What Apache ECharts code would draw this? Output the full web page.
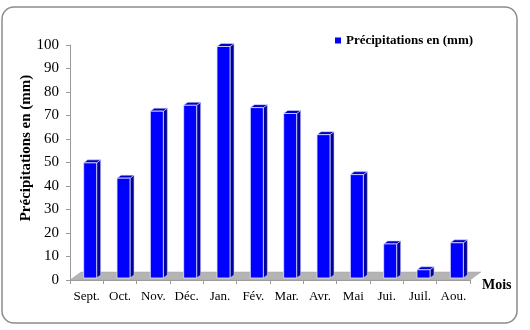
<!DOCTYPE html>
<html lang="fr">
<head>
<meta charset="UTF-8">
<title>Précipitations</title>
<script src="https://cdn.jsdelivr.net/npm/echarts@6/dist/echarts.min.js"></script>
<style>
  html, body { margin: 0; padding: 0; background: #fff; }
  #chart { width: 530px; height: 330px; }
</style>
</head>
<body>
<div id="chart"></div>
<script>
  // données
  var mois = ["Sept.", "Oct.", "Nov.", "Déc.", "Jan.", "Fév.", "Mar.", "Avr.", "Mai", "Jui.", "Juil.", "Aou."];
  var precipitations = [49, 42.5, 71, 73.5, 98.5, 72.5, 70, 61, 44, 14.5, 3.5, 15];
  var yTicks = { min: 0, max: 100, interval: 10 };

  var font = "'Liberation Serif', 'Times New Roman', serif";

  // barre en pseudo 3D : face avant, dessus, côté
  function renderBar(params, api) {
    var i = api.value(0);
    var top = api.coord([i, api.value(1)]);
    var base = api.coord([i, 0]);
    var w = 13, dx = 4, dy = -3;
    var xl = top[0] - 3, xr = xl + w;
    var yb = base[1] - 2, yt = top[1] - 2;
    return {
      type: 'group',
      children: [
        { type: 'polygon', shape: { points: [[xr, yt], [xr + dx, yt + dy], [xr + dx, yb + dy], [xr, yb]] },
          style: { fill: '#00009a', stroke: '#c8c8ff', lineWidth: 0.6 } },
        { type: 'polygon', shape: { points: [[xl, yt], [xr, yt], [xr + dx, yt + dy], [xl + dx, yt + dy]] },
          style: { fill: '#0000c8', stroke: '#d8d8ff', lineWidth: 0.6 } },
        { type: 'rect', shape: { x: xl, y: yt, width: w, height: yb - yt },
          style: { fill: '#0000ff', stroke: '#e6e6ff', lineWidth: 0.8 } }
      ]
    };
  }

  // sol gris sous les barres
  function renderFloor(params, api) {
    var bw = api.size([1, 0])[0];
    var a = api.coord([0, 0]), b = api.coord([mois.length - 1, 0]);
    var xs = a[0] - bw / 2, xe = b[0] + bw / 2, y0 = a[1];
    var dx = 11, dy = -8;
    return {
      type: 'polygon',
      shape: { points: [[xs, y0], [xe, y0], [xe + dx, y0 + dy], [xs + dx, y0 + dy]] },
      style: { fill: '#b4b4b4', stroke: '#a0a0a0', lineWidth: 0.5 }
    };
  }

  var chart = echarts.init(document.getElementById('chart'));
  var option = {
    backgroundColor: '#fff',
    animation: false,
    grid: { left: 70, right: 60, top: 45, bottom: 50 },
    legend: {
      data: ['Précipitations en (mm)'],
      left: 330, top: 29,
      icon: 'rect', itemWidth: 6, itemHeight: 6,
      textStyle: { fontFamily: font, fontWeight: 'bold', fontSize: 13, color: '#000' }
    },
    graphic: [{
      type: 'rect',
      shape: { x: 2, y: 7, width: 515, height: 316, r: 12 },
      style: { fill: 'none', stroke: '#8c8c8c', lineWidth: 1.5 },
      z: -1
    }, {
      type: 'text',
      x: 26, y: 148,
      rotation: Math.PI / 2,
      style: {
        text: 'Précipitations en (mm)',
        font: 'bold 15px ' + font,
        fill: '#000',
        textAlign: 'center',
        textVerticalAlign: 'middle'
      }
    }],
    xAxis: {
      type: 'category',
      data: mois,
      name: 'Mois',
      nameLocation: 'end',
      nameGap: 12,
      nameTextStyle: { fontFamily: font, fontWeight: 'bold', fontSize: 14, color: '#000',
        verticalAlign: 'top', padding: [-2, 0, 0, 0] },
      axisLine: { lineStyle: { color: '#9a9a9a' } },
      axisTick: { show: true, length: 4, interval: 0, lineStyle: { color: '#9a9a9a' } },
      axisLabel: { fontFamily: font, fontSize: 13, color: '#000', margin: 10, interval: 0 }
    },
    yAxis: {
      type: 'value',
      min: yTicks.min, max: yTicks.max, interval: yTicks.interval,
      axisLine: { show: true, lineStyle: { color: '#9a9a9a' } },
      axisTick: { show: true, length: 4, lineStyle: { color: '#9a9a9a' } },
      axisLabel: { fontFamily: font, fontSize: 15, color: '#000', margin: 11 },
      splitLine: { show: false }
    },
    series: [
      {
        name: 'floor',
        type: 'custom',
        renderItem: renderFloor,
        data: [[0, 0]],
        silent: true,
        z: 1
      },
      {
        name: 'Précipitations en (mm)',
        type: 'custom',
        renderItem: renderBar,
        itemStyle: { color: '#0000ff' },
        data: precipitations.map(function (v, i) { return [i, v]; }),
        encode: { x: 0, y: 1 },
        z: 2
      }
    ]
  };
  chart.setOption(option);
</script>
</body>
</html>
